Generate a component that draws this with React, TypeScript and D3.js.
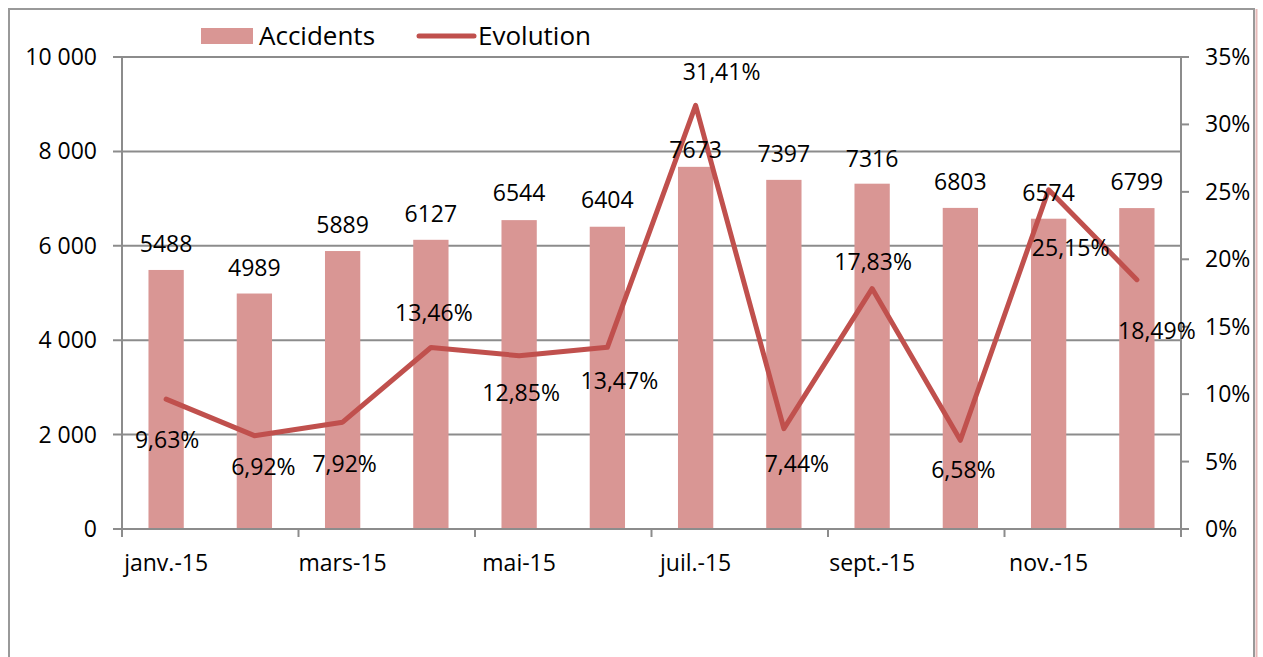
import React from 'react';
import * as d3 from 'd3';

const months = ['janv.-15', 'févr.-15', 'mars-15', 'avr.-15', 'mai-15', 'juin-15', 'juil.-15', 'août-15', 'sept.-15', 'oct.-15', 'nov.-15', 'déc.-15'];
const accidents = [5488, 4989, 5889, 6127, 6544, 6404, 7673, 7397, 7316, 6803, 6574, 6799];
const evolution = [9.63, 6.92, 7.92, 13.46, 12.85, 13.47, 31.41, 7.44, 17.83, 6.58, 25.15, 18.49];
const countTicks = [0, 2000, 4000, 6000, 8000, 10000];
const pctTicks = [0, 5, 10, 15, 20, 25, 30, 35];

// where each data label sits (pixels from its point/bar top to the label centre)
const evoLabelDx = [1, 9, 2, 3, 2, 12, 26, 13, 1, 3, 22, 20];
const evoLabelDy = [41, 31, 42, -35, 37, 34, -33, 35, -27, 30, 58, 51];
const barLabelDy = [-26, -26, -26, -26, -27, -27, -17, -26, -25, -26, -26, -26];

const W = 1263;
const H = 657;
const margin = { top: 57, right: 82, bottom: 128, left: 122 };
const font = '"Open Sans", sans-serif';
const fs = 23;
const legendFs = 26;
const barColor = '#D99694';
const lineColor = '#C0504D';
const gridColor = '#8C8C8C';

const loc = d3.formatLocale({ decimal: ',', thousands: '\u00a0', grouping: [3], currency: ['', '€'] });
const fmtCount = loc.format(',');
const fmtPct = (v: number) => loc.format('.2f')(v) + '%';

export default function App() {
  const x = d3
    .scaleBand<number>()
    .domain(d3.range(months.length))
    .range([margin.left, W - margin.right])
    .paddingInner(0.6)
    .paddingOuter(0.3);
  const step = x.step();
  const cx = (i: number) => (x(i) as number) + x.bandwidth() / 2;
  const y = d3.scaleLinear().domain([0, 10000]).range([H - margin.bottom, margin.top]);
  const y2 = d3.scaleLinear().domain([0, 35]).range([H - margin.bottom, margin.top]);
  const x0 = margin.left;
  const x1 = W - margin.right;
  const yb = H - margin.bottom;

  const line = d3
    .line<number>()
    .x((d, i) => cx(i))
    .y((d) => y2(d));

  // month boundaries every two months, plus the right end
  const xTicks = d3.range(0, months.length + 1, 2);

  return (
    <svg width={W} height={H} style={{ position: 'absolute', left: 0, top: 0, background: '#fff' }} fontFamily={font}>
      <rect x={9} y={9} width={1245} height={720} fill="none" stroke="#999" strokeWidth={2} />
      <line x1={1256.5} x2={1256.5} y1={9} y2={H} stroke="#E6B9B8" strokeWidth={2} />

      {/* gridlines */}
      {countTicks.map((t) => (
        <line key={t} x1={x0 - 9} x2={x1} y1={y(t)} y2={y(t)} stroke={gridColor} strokeWidth={2} />
      ))}
      {/* left axis */}
      <line x1={x0} x2={x0} y1={margin.top} y2={yb + 8} stroke={gridColor} strokeWidth={2} />
      {countTicks.map((t) => (
        <text key={t} x={x0 - 25} y={y(t)} dy="0.35em" textAnchor="end" fontSize={fs} fill="#000">
          {fmtCount(t)}
        </text>
      ))}
      {/* right axis */}
      <line x1={x1} x2={x1} y1={margin.top} y2={yb + 8} stroke={gridColor} strokeWidth={2} />
      {pctTicks.map((t) => (
        <g key={t}>
          <line x1={x1} x2={x1 + 8} y1={y2(t)} y2={y2(t)} stroke={gridColor} strokeWidth={2} />
          <text x={x1 + 24} y={y2(t)} dy="0.35em" fontSize={fs} fill="#000">
            {t}%
          </text>
        </g>
      ))}

      {/* bars */}
      {accidents.map((v, i) => (
        <rect key={i} x={x(i)} y={y(v)} width={x.bandwidth()} height={yb - y(v)} fill={barColor} />
      ))}

      {/* bottom axis */}
      <line x1={x0 - 9} x2={x1 + 8} y1={yb} y2={yb} stroke={gridColor} strokeWidth={2} />
      {xTicks.map((k) => (
        <line key={k} x1={x0 + k * step} x2={x0 + k * step} y1={yb} y2={yb + 8} stroke={gridColor} strokeWidth={2} />
      ))}
      {months.map((m, i) =>
        i % 2 === 0 ? (
          <text key={m} x={cx(i)} y={yb + 34} dy="0.35em" textAnchor="middle" fontSize={fs} fill="#000">
            {m}
          </text>
        ) : null
      )}

      {/* evolution line */}
      <path d={line(evolution) || ''} fill="none" stroke={lineColor} strokeWidth={5} strokeLinejoin="round" strokeLinecap="round" />

      {/* bar labels */}
      {accidents.map((v, i) => (
        <text key={i} x={cx(i)} y={y(v) + barLabelDy[i]} dy="0.35em" textAnchor="middle" fontSize={fs} fill="#000">
          {v}
        </text>
      ))}
      {/* line labels */}
      {evolution.map((v, i) => (
        <text key={i} x={cx(i) + evoLabelDx[i]} y={y2(v) + evoLabelDy[i]} dy="0.35em" textAnchor="middle" fontSize={fs} fill="#000">
          {fmtPct(v)}
        </text>
      ))}

      {/* legend */}
      <rect x={201} y={28} width={52} height={16} fill={barColor} />
      <text x={259} y={36} dy="0.35em" fontSize={legendFs} fill="#000">
        Accidents
      </text>
      <line x1={419} x2={474} y1={36} y2={36} stroke={lineColor} strokeWidth={5} strokeLinecap="round" />
      <text x={478} y={36} dy="0.35em" fontSize={legendFs} fill="#000">
        Evolution
      </text>
    </svg>
  );
}
